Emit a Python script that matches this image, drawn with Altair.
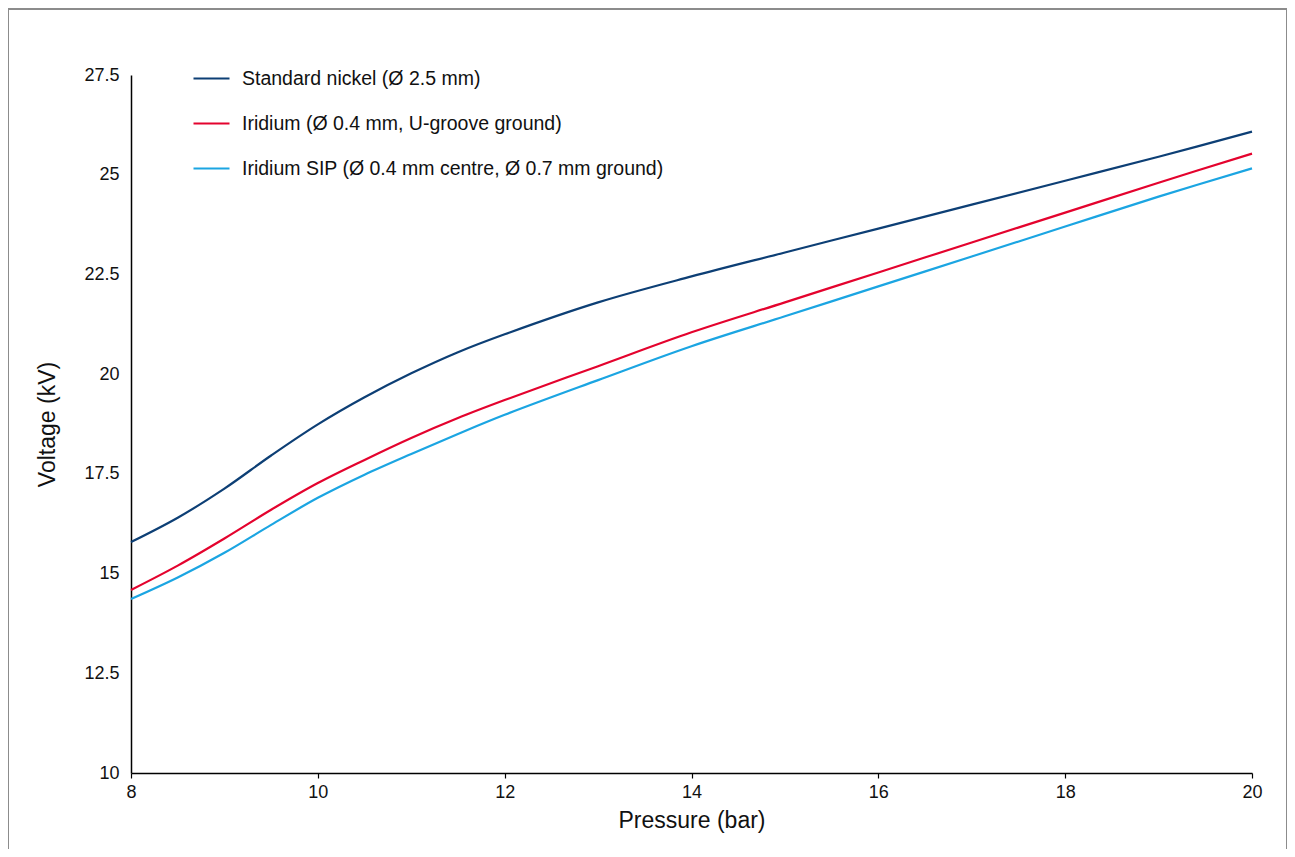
import altair as alt
import pandas as pd

pressure = [8, 8.5, 9, 9.5, 10, 10.5, 11, 11.5, 12, 13, 14, 15, 16, 17, 18, 19, 20]
nickel = [15.79, 16.4, 17.13, 17.96, 18.74, 19.42, 20.02, 20.55, 21.0, 21.8, 22.45, 23.05, 23.65, 24.25, 24.85, 25.45, 26.08]
iridium = [14.59, 15.2, 15.88, 16.6, 17.27, 17.85, 18.4, 18.9, 19.35, 20.2, 21.05, 21.8, 22.55, 23.3, 24.05, 24.8, 25.53]
iridium_sip = [14.36, 14.9, 15.52, 16.22, 16.9, 17.48, 18.0, 18.5, 18.98, 19.85, 20.7, 21.45, 22.2, 22.95, 23.7, 24.45, 25.16]

series_names = [
    "Standard nickel (Ø 2.5 mm)",
    "Iridium (Ø 0.4 mm, U-groove ground)",
    "Iridium SIP (Ø 0.4 mm centre, Ø 0.7 mm ground)",
]
series_colors = ["#0d3f75", "#e4032e", "#1ba5e2"]
x_ticks = [8, 10, 12, 14, 16, 18, 20]
y_ticks = [10, 12.5, 15, 17.5, 20, 22.5, 25, 27.5]

rows = []
for name, vals in zip(series_names, [nickel, iridium, iridium_sip]):
    for p, v in zip(pressure, vals):
        rows.append({"Pressure": p, "Voltage": v, "Series": name})
df = pd.DataFrame(rows)

FONT = "Liberation Sans"

lines = alt.Chart(df).mark_line(strokeWidth=2.2, interpolate="catmull-rom").encode(
    x=alt.X("Pressure:Q",
            scale=alt.Scale(domain=[8, 20], nice=False, zero=False),
            axis=alt.Axis(values=x_ticks, title="Pressure (bar)", grid=False, format="d",
                          ticks=True, tickSize=5, labelPadding=5, titlePadding=8,
                          labelFlush=False)),
    y=alt.Y("Voltage:Q",
            scale=alt.Scale(domain=[10, 27.5], nice=False, zero=False),
            axis=alt.Axis(values=y_ticks, title="Voltage (kV)", grid=False, format=".1~f",
                          ticks=False, labelPadding=12, titlePadding=24,
                          labelFlush=False)),
    color=alt.Color("Series:N",
                    scale=alt.Scale(domain=series_names, range=series_colors),
                    sort=series_names,
                    legend=alt.Legend(title=None, orient="none", legendX=61, legendY=-16,
                                      symbolType="stroke", symbolSize=1296,
                                      symbolStrokeWidth=2.2, labelFontSize=19.5,
                                      labelFont=FONT, labelColor="#111111",
                                      labelOffset=11, rowPadding=16, labelLimit=700)),
)

frame = alt.Chart(pd.DataFrame({"k": [0]})).mark_rect(
    fill=None, stroke="#8c8c8c", strokeWidth=2, clip=False
).encode(
    x=alt.value(-123), x2=alt.value(1156), y=alt.value(-66), y2=alt.value(800)
)

chart = alt.layer(frame, lines).properties(
    width=1121, height=698,
    padding={"left": 123, "top": 67, "right": 35, "bottom": 76},
    autosize=alt.AutoSizeParams(type="none"),
    background="white",
).configure_view(stroke=None).configure_axis(
    domainColor="#000000", domainWidth=1.5, tickColor="#000000", tickWidth=1.2,
    labelFont=FONT, labelFontSize=18, labelColor="#111111",
    titleFont=FONT, titleFontSize=23, titleFontWeight="normal", titleColor="#111111",
)

chart.save("out.html", embed_options={"renderer": "svg", "actions": False})
